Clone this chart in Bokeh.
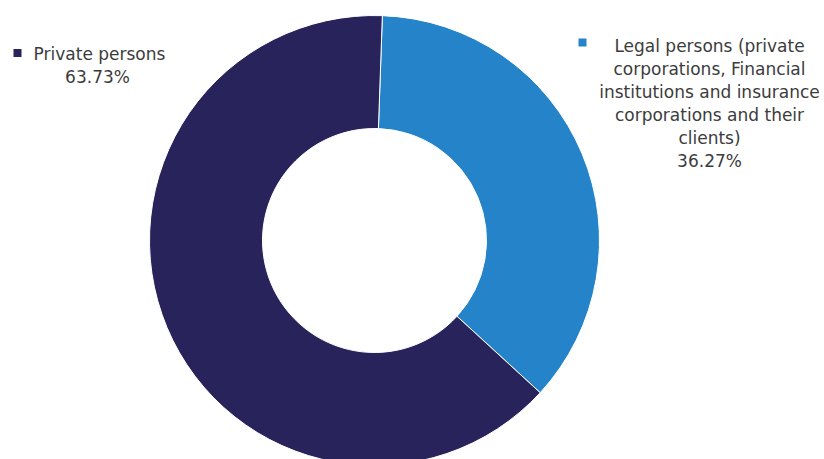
import math
from bokeh.plotting import figure
from bokeh.models import Range1d, ColumnDataSource
from bokeh.core.properties import value
from bokeh.embed import file_html
from bokeh.resources import INLINE

# ---- data ----
categories = ["Legal persons (private corporations, Financial institutions and insurance corporations and their clients)",
              "Private persons"]
shares = [36.27, 63.73]
colors = ["#2483C9", "#29235B"]
legal_label_lines = ["Legal persons (private", "corporations, Financial",
                     "institutions and insurance", "corporations and their",
                     "clients)", "36.27%"]
private_label_lines = ["Private persons", "63.73%"]

W, H = 824, 459
def px(x):
    return x
def py(y):
    return H - y

p = figure(width=W, height=H, output_backend="svg", toolbar_location=None,
           x_range=Range1d(0, W), y_range=Range1d(0, H), min_border=0)
p.axis.visible = False
p.grid.visible = False
p.outline_line_color = None
p.background_fill_color = "white"

cx, cy = px(374), py(240)
start_offset = 2.0  # degrees clockwise from top
starts, ends = [], []
acc = 0.0
total = sum(shares)
for s in shares:
    a0 = 90 - start_offset - acc / total * 360
    acc += s
    a1 = 90 - start_offset - acc / total * 360
    starts.append(math.radians(a0))
    ends.append(math.radians(a1))

src = ColumnDataSource(dict(x=[cx] * len(shares), y=[cy] * len(shares),
                            start=starts, end=ends, color=colors))
p.annular_wedge(x="x", y="y", inner_radius=112, outer_radius=225,
                start_angle="start", end_angle="end", direction="clock",
                fill_color="color", line_color="white", line_width=1,
                inner_radius_units="screen", outer_radius_units="screen",
                source=src)

font = value("DejaVu Sans")
txt_color = "#3c3c3c"
fs = "17px"

# right label
ry0 = 45
p.text(x=[px(709)] * len(legal_label_lines),
       y=[py(ry0 + 23 * i) for i in range(len(legal_label_lines))],
       text=legal_label_lines, text_font=font, text_font_size=fs,
       text_color=txt_color, text_align="center", text_baseline="middle")
# left label
p.text(x=[px(99), px(97)], y=[py(53), py(76)],
       text=private_label_lines, text_font=font, text_font_size=fs,
       text_color=txt_color, text_align="center", text_baseline="middle")

# markers
p.scatter(x=[px(17), px(582)], y=[py(52.5), py(42)], marker="square", size=8,
          fill_color=[colors[1], colors[0]], line_color=None)

open("out.html", "w").write(file_html(p, INLINE))
